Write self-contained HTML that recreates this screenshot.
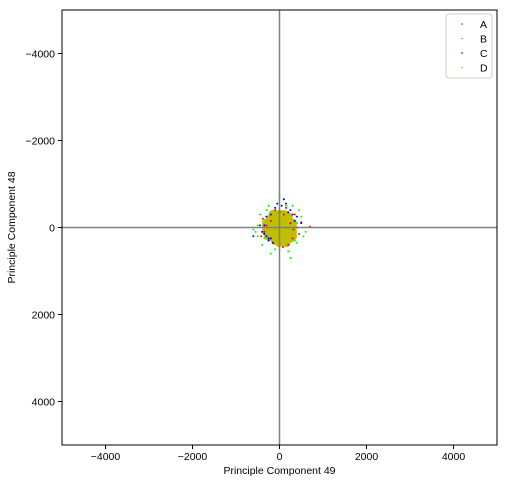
<!DOCTYPE html>
<html><head><meta charset="utf-8"><style>
body{margin:0;background:#fff;font-family:"Liberation Sans",sans-serif;}
svg text{font-family:"Liberation Sans",sans-serif;font-size:10.5px;fill:#000}
</style></head><body>
<svg id="chart" width="507" height="483">
<rect x="0" y="0" width="507" height="483" fill="#fff"/>
<g id="marks"></g>
<g id="axes"></g>
</svg>
<script>
const xTicks=[-4000,-2000,0,2000,4000];
const yTicks=[-4000,-2000,0,2000,4000];
const seriesNames=["A","B","C","D"];
const seriesColors=["#ff0000","#00ff00","#0000ff","#bfbf00"];
const seriesA=[[-350,100],[-300,-50],[420,0],[500,-120],[300,250],[150,-450],[-100,-400],[-420,200],[200,400],[350,-300],[-250,300],[700,-20],[80,450],[-150,350],[250,-100],[450,150],[-380,-200],[100,-300],[-200,-150],[320,50]];
const seriesB=[[-500,-50],[-550,100],[400,350],[-400,400],[300,-500],[-200,600],[100,-650],[550,200],[-450,-300],[500,-250],[-600,50],[200,550],[-300,-400],[350,300],[-100,500],[450,-400],[-350,250],[600,100],[150,-500],[-500,200],[250,700],[0,-700],[-250,-500],[400,-100]];
const seriesC=[[-300,200],[-250,300],[-350,150],[-200,-300],[-100,-450],[50,-500],[150,-550],[-350,-50],[-400,100],[300,-300],[250,-400],[400,-250],[-150,350],[-250,250],[100,-650],[200,-350],[-450,-50],[-300,-250],[350,-150],[-50,-550],[500,-100],[-600,200],[0,-350],[-200,250]];
const seriesD=[[0,0],[-100,0],[100,0],[200,0],[-200,0],[300,0],[-300,0],[0,-100],[0,100],[0,200],[0,-200],[0,300],[0,-300],[100,100],[-100,100],[100,-100],[-100,-100],[200,200],[-200,200],[200,-200],[-200,-200],[300,100],[-300,100],[300,-100],[-300,-100],[100,300],[-100,300],[100,-300],[-100,-300],[250,250],[-250,200],[200,-250],[-200,-200],[300,200],[150,350],[-150,-300],[50,-300],[0,350]];
const allSeries=[seriesD,seriesA,seriesB,seriesC];
const seriesIdx=[3,0,1,2];
const L=62,R=497,T=10,B=445,MIN=-5000,MAX=5000;
function sx(v){return L+(v-MIN)/(MAX-MIN)*(R-L);}
function sy(v){return T+(v-MIN)/(MAX-MIN)*(B-T);}
const NS="http://www.w3.org/2000/svg";
function mk(tag,attrs,parent){const e=document.createElementNS(NS,tag);for(const k in attrs)e.setAttribute(k,attrs[k]);parent.appendChild(e);return e;}
const marks=document.getElementById('marks'),axes=document.getElementById('axes');
allSeries.forEach((s,k)=>{
  const si=seriesIdx[k];
  const g=mk('g',{},marks);
  
  
  s.forEach(p=>{
    const r=si===3?4.5:1;
    const c=mk('circle',{cx:sx(p[0]),cy:sy(p[1]),r:r,fill:seriesColors[si]},g);
    
    
  });
});
const zx=mk('line',{x1:sx(0),x2:sx(0),y1:T,y2:B,stroke:'#808080','stroke-width':1.5},axes);


const zy=mk('line',{x1:L,x2:R,y1:sy(0),y2:sy(0),stroke:'#808080','stroke-width':1.5},axes);


const frame=mk('rect',{x:L,y:T,width:R-L,height:B-T,fill:'none',stroke:'#000','stroke-width':1},axes);


xTicks.forEach(v=>{
  mk('line',{x1:sx(v),x2:sx(v),y1:B,y2:B+4,stroke:'#000'},axes);
  const t=mk('text',{x:sx(v),y:B+15,'text-anchor':'middle'},axes);
  t.textContent=(v<0?'\u2212'+(-v):v);
  
  
});
yTicks.forEach(v=>{
  mk('line',{x1:L-4,x2:L,y1:sy(v),y2:sy(v),stroke:'#000'},axes);
  const t=mk('text',{x:L-7,y:sy(v)+4,'text-anchor':'end'},axes);
  t.textContent=(v<0?'\u2212'+(-v):v);
  
  
});
const xt=mk('text',{x:(L+R)/2,y:474,'text-anchor':'middle'},axes);
xt.textContent='Principle Component 49';


const yt=mk('text',{x:15,y:(T+B)/2,'text-anchor':'middle',transform:'rotate(-90 15 '+((T+B)/2)+')'},axes);
yt.textContent='Principle Component 48';


const lg=mk('g',{},axes);


mk('rect',{x:446,y:14,width:46,height:64,rx:3,fill:'#fff',stroke:'#ccc'},lg);
seriesNames.forEach((n,i)=>{
  const y=24+i*14.5;
  mk('circle',{cx:462,cy:y,r:0.8,fill:seriesColors[i]},lg);
  const t=mk('text',{x:480,y:y+4},lg);
  t.textContent=n;
  
  
});
</script>
</body></html>
